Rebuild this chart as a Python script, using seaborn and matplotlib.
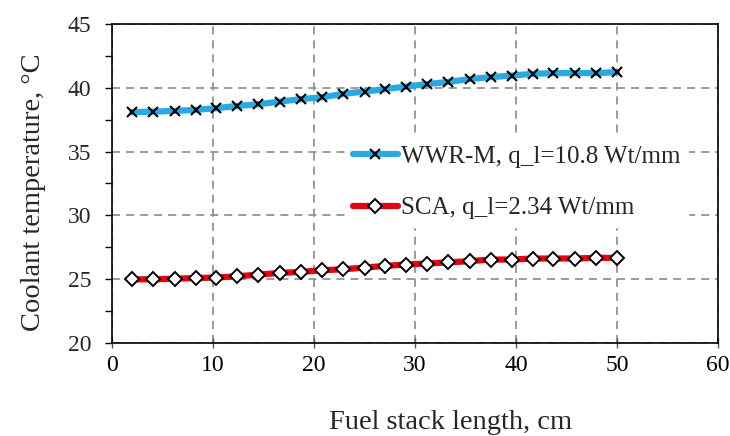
import matplotlib
matplotlib.use("Agg")
import matplotlib.pyplot as plt
import seaborn as sns
import pandas as pd
from matplotlib.ticker import MultipleLocator

# ---- data ----
x_cm = [2.0, 4.1, 6.2, 8.3, 10.3, 12.4, 14.5, 16.6, 18.7, 20.8, 22.9, 25.0,
        27.0, 29.1, 31.2, 33.3, 35.4, 37.5, 39.6, 41.7, 43.7, 45.8, 47.9, 50.0]
wwr_m = [38.09, 38.13, 38.19, 38.27, 38.40, 38.58, 38.71, 38.92, 39.11, 39.26,
         39.52, 39.71, 39.89, 40.10, 40.29, 40.46, 40.68, 40.84, 40.96, 41.10,
         41.15, 41.15, 41.15, 41.23]
sca = [24.99, 24.99, 25.04, 25.09, 25.13, 25.23, 25.36, 25.49, 25.57, 25.70,
       25.78, 25.91, 26.04, 26.15, 26.23, 26.32, 26.41, 26.54, 26.54, 26.62,
       26.62, 26.62, 26.67, 26.67]
series_labels = ["WWR-M, q_l=10.8 Wt/mm", "SCA, q_l=2.34 Wt/mm"]
x_ticks = [0, 10, 20, 30, 40, 50, 60]
y_ticks = [20, 25, 30, 35, 40, 45]
x_label = "Fuel stack length, cm"
y_label = "Coolant temperature, °C"

sns.set_style("white")
plt.rcParams['font.family'] = ['Liberation Serif', 'DejaVu Serif']
plt.rcParams['lines.scale_dashes'] = False

fig = plt.figure(figsize=(7.30, 4.36), dpi=100)
ax = fig.add_axes([112/730, 1 - 343/436, (718-112)/730, (343-24)/436])

df = pd.DataFrame({"x": x_cm, "wwr": wwr_m, "sca": sca})

sns.lineplot(data=df, x="x", y="wwr", ax=ax, color="#29A9DF", linewidth=4.5,
             marker="x", markersize=7.5, markeredgecolor="black",
             markeredgewidth=1.5, label=series_labels[0], zorder=3)
sns.lineplot(data=df, x="x", y="sca", ax=ax, color="#E30613", linewidth=4.5,
             marker="D", markersize=6.8, markerfacecolor="white",
             markeredgecolor="black", markeredgewidth=1.4,
             label=series_labels[1], zorder=3)

ax.set_xlim(0, 60)
ax.set_ylim(20, 45)
ax.set_xticks(x_ticks)
ax.set_yticks(y_ticks)
ax.yaxis.set_minor_locator(MultipleLocator(2.5))

ax.grid(True, which="major", color="#8a8a8a", linewidth=1.2,
        linestyle=(0, (5.8, 4.3)))
ax.set_axisbelow(True)

for s in ax.spines.values():
    s.set_visible(True)
    s.set_color("black")
    s.set_linewidth(1.2)

ax.tick_params(axis="x", which="major", direction="inout", length=7,
               width=1.0, color="#555555", labelsize=17, pad=5,
               labelcolor="black", bottom=True)
ax.tick_params(axis="y", which="both", direction="out", length=5,
               width=1.0, color="black", labelsize=17, pad=10, left=True)
ax.tick_params(axis="y", which="minor", labelleft=False)

ax.set_xlabel(x_label, fontsize=20.5)
ax.set_ylabel(y_label, fontsize=20.5)
ax.xaxis.set_label_coords(0.559, -0.21)
ax.yaxis.set_label_coords(-0.109, 0.473)

leg = ax.legend(loc="center left", bbox_to_anchor=(0.3845, 0.503),
                borderaxespad=0, frameon=True, fancybox=False,
                framealpha=1, edgecolor="white", facecolor="white",
                fontsize=18, handlelength=1.8, handletextpad=0.15,
                labelspacing=1.15, borderpad=0.3)

fig.savefig("out.png", dpi=100)
